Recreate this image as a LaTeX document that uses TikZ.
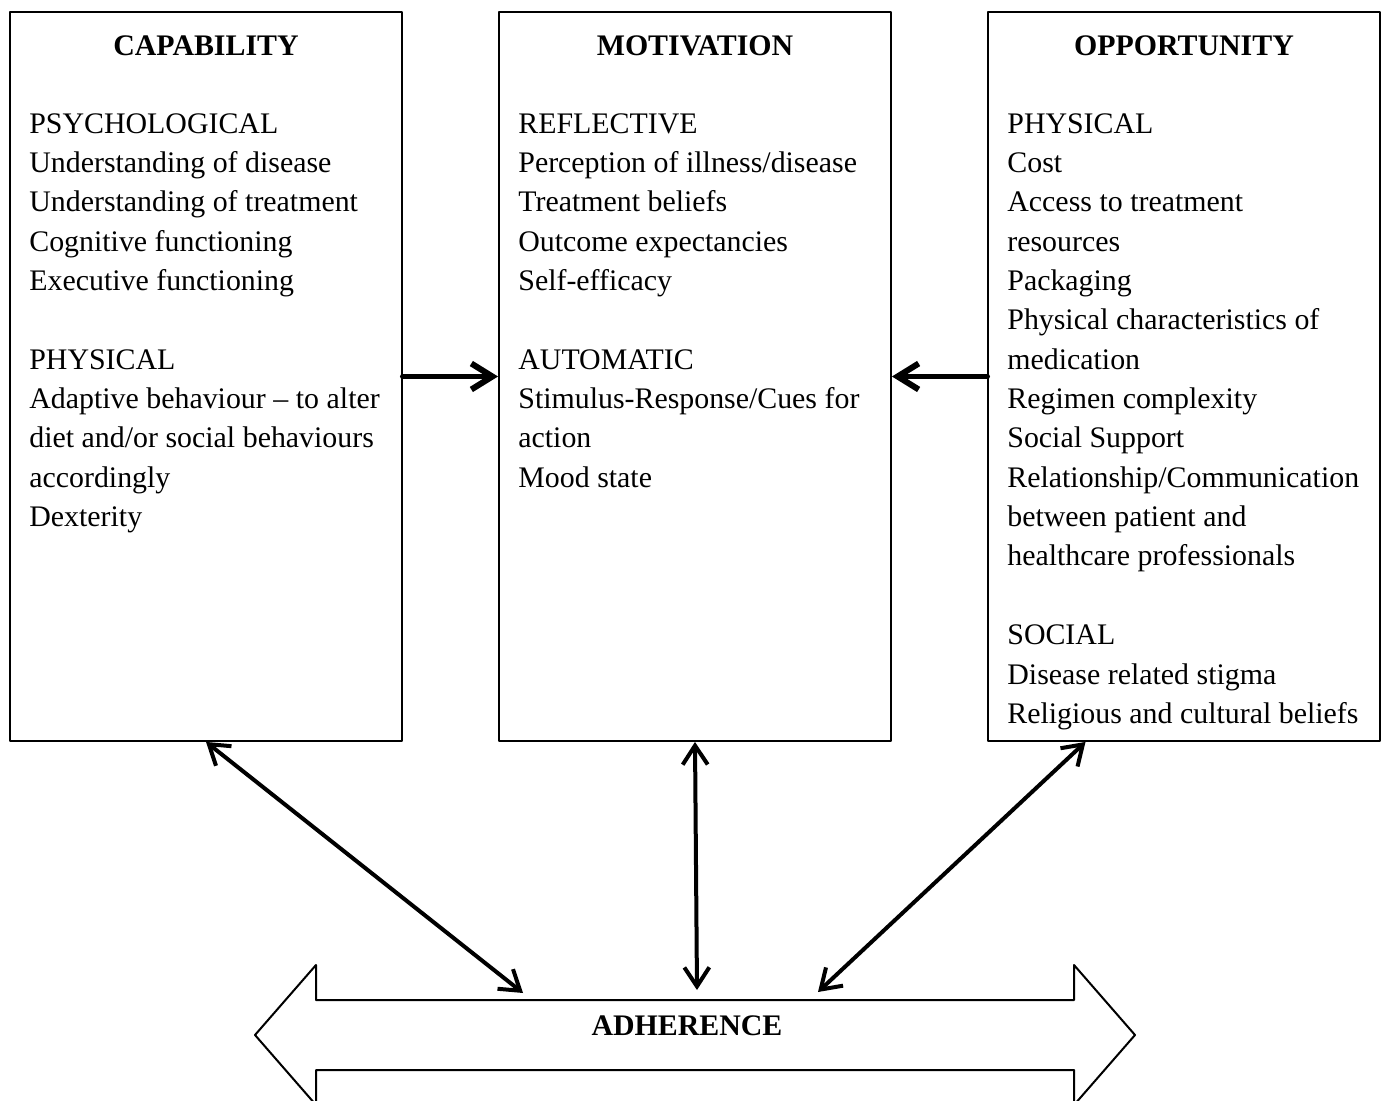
\documentclass[tikz,border=0pt]{standalone}
\usepackage{fontspec}
\setmainfont{Liberation Serif}
\usetikzlibrary{arrows.meta,calc}
\newcommand{\bodyfont}{\fontsize{17}{22.4}\selectfont\spaceskip=4.3pt\relax}

\begin{document}
\begin{tikzpicture}[x=0.02cm,y=-0.02cm,line cap=round,line join=round,
  box/.style={draw,line width=0.04cm,minimum width=7.84cm,minimum height=14.58cm,inner sep=0pt},
  head/.style={font=\fontsize{17}{22.4}\selectfont\bfseries,anchor=base,inner sep=0pt},
  body/.style={font=\bodyfont,anchor=base west,align=flush left,text width=7.4cm,inner sep=0pt},
  link/.style={line width=0.12cm,-{Straight Barb[length=0.42cm,width=0.52cm]}},
  both/.style={line width=0.08cm,{Straight Barb[length=0.38cm,width=0.5cm]}-{Straight Barb[length=0.38cm,width=0.5cm]}}]
  \useasboundingbox (0,0) rectangle (1386,1101);
  \clip (0,0) rectangle (1386,1101);
  % boxes
  \node[box] (cap) at (206,376.5) {};
  \node[box] (mot) at (695,376.5) {};
  \node[box] (opp) at (1184,376.5) {};
  % titles
  \node[head] (capT) at ($(cap.north)+(0,44)$) {CAPABILITY};
  \node[head] (motT) at ($(mot.north)+(0,44)$) {MOTIVATION};
  \node[head] (oppT) at ($(opp.north)+(0,44)$) {OPPORTUNITY};
  % box texts
  \node[body] (capB) at ($(cap.north west)+(20,122)$) {PSYCHOLOGICAL\\
    Understanding of disease\\
    Understanding of treatment\\
    Cognitive functioning\\
    Executive functioning\\[22.4pt]
    PHYSICAL\\
    Adaptive behaviour -- to alter\\
    diet and/or social behaviours\\
    accordingly\\
    Dexterity};
  \node[body] (motB) at ($(mot.north west)+(20,122)$) {REFLECTIVE\\
    Perception of illness/disease\\
    Treatment beliefs\\
    Outcome expectancies\\
    Self-efficacy\\[22.4pt]
    AUTOMATIC\\
    Stimulus-Response/Cues for\\
    action\\
    Mood state};
  \node[body] (oppB) at ($(opp.north west)+(20,122)$) {PHYSICAL\\
    Cost\\
    Access to treatment\\
    resources\\
    Packaging\\
    Physical characteristics of\\
    medication\\
    Regimen complexity\\
    Social Support\\
    Relationship/Communication\\
    between patient and\\
    healthcare professionals\\[22.4pt]
    SOCIAL\\
    Disease related stigma\\
    Religious and cultural beliefs};
  % adherence arrow
  \draw[line width=0.04cm] (255,1035) -- (316,965) -- (316,1000) -- (1074,1000)
    -- (1074,965) -- (1135,1035) -- (1074,1105) -- (1074,1070) -- (316,1070)
    -- (316,1105) -- cycle;
  \node[head] (adh) at (687,1035) {ADHERENCE};
  \coordinate (inL) at (523,993);
  \coordinate (inM) at (697,990);
  \coordinate (inR) at (818,992);
  % connectors
  \draw[link] (cap.east) -- (mot.west);
  \draw[link] (opp.west) -- (mot.east);
  \draw[both] (cap.south) -- (inL);
  \draw[both] (mot.south) -- (inM);
  \draw[both] ($(opp.south west)!0.25!(opp.south east)$) -- (inR);
\end{tikzpicture}
\end{document}
